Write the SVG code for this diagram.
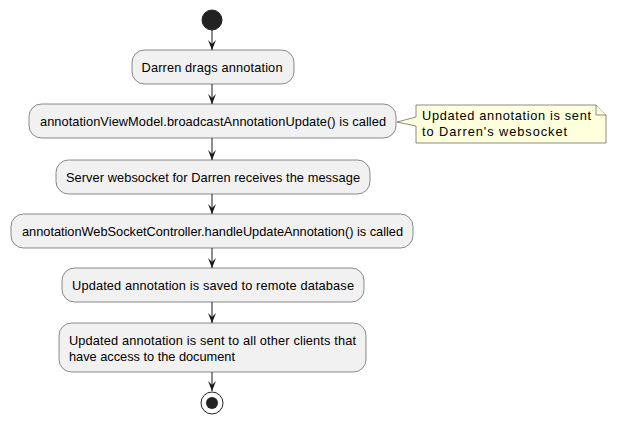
<svg xmlns="http://www.w3.org/2000/svg" width="617" height="424" viewBox="0 0 617 424">
<style>
.box{fill:#F1F1F1;stroke:#181818;stroke-width:0.5}
.t{font-family:"Liberation Sans",Arial,sans-serif;font-size:12.8px;fill:#000}
.c{text-anchor:middle}
.ln{stroke:#181818;stroke-width:1;fill:none}
.note{fill:#FEFFDD;stroke:#181818;stroke-width:0.5}
</style>
<defs>
<marker id="ah" viewBox="0 0 10 10" refX="10" refY="5" markerWidth="10" markerHeight="10" markerUnits="userSpaceOnUse" orient="auto">
<path d="M0,1 L10,5 L0,9 L4,5 Z" fill="#181818"/>
</marker>
</defs>
<rect width="617" height="424" fill="#FFFFFF"/>
<g id="connectors">
<line class="ln" x1="212" y1="30" x2="212" y2="50" marker-end="url(#ah)"/>
<line class="ln" x1="212" y1="84" x2="212" y2="104" marker-end="url(#ah)"/>
<line class="ln" x1="212" y1="138" x2="212" y2="160" marker-end="url(#ah)"/>
<line class="ln" x1="212" y1="194" x2="212" y2="214" marker-end="url(#ah)"/>
<line class="ln" x1="212" y1="248" x2="212" y2="268" marker-end="url(#ah)"/>
<line class="ln" x1="212" y1="302" x2="212" y2="323" marker-end="url(#ah)"/>
<line class="ln" x1="212" y1="372" x2="212" y2="391" marker-end="url(#ah)"/>
</g>
<g id="start"><circle cx="212" cy="20" r="10" fill="#222222" stroke="#222222"/></g>
<g id="n1"><rect class="box" x="132" y="50" width="162" height="34" rx="12.5"/><text class="t c" x="212" y="72" textLength="141">Darren drags annotation</text></g>
<g id="n2"><rect class="box" x="29" y="104" width="367" height="34" rx="12.5"/><text class="t c" x="213" y="126" textLength="346">annotationViewModel.broadcastAnnotationUpdate() is called</text></g>
<g id="note"><path class="note" d="M416,105 L416,117 L397,122 L416,126 L416,143 L606,143 L606,115 L596,105 Z"/><path class="note" d="M596,105 L596,115 L606,115"/><text class="t" x="422" y="120" textLength="169">Updated annotation is sent</text><text class="t" x="422" y="136" textLength="145">to Darren's websocket</text></g>
<g id="n3"><rect class="box" x="56" y="160" width="314" height="34" rx="12.5"/><text class="t c" x="213" y="182" textLength="294">Server websocket for Darren receives the message</text></g>
<g id="n4"><rect class="box" x="11" y="214" width="402" height="34" rx="12.5"/><text class="t c" x="212.5" y="236" textLength="381">annotationWebSocketController.handleUpdateAnnotation() is called</text></g>
<g id="n5"><rect class="box" x="62" y="268" width="302" height="34" rx="12.5"/><text class="t c" x="213" y="290" textLength="282">Updated annotation is saved to remote database</text></g>
<g id="n6"><rect class="box" x="59" y="323" width="307" height="49" rx="12.5"/><text class="t" x="69" y="345" textLength="287">Updated annotation is sent to all other clients that</text><text class="t" x="69" y="361" textLength="166">have access to the document</text></g>
<g id="end"><circle cx="212" cy="403" r="11" fill="none" stroke="#222222" stroke-width="1"/><circle cx="212" cy="403" r="6" fill="#222222"/></g>
</svg>
